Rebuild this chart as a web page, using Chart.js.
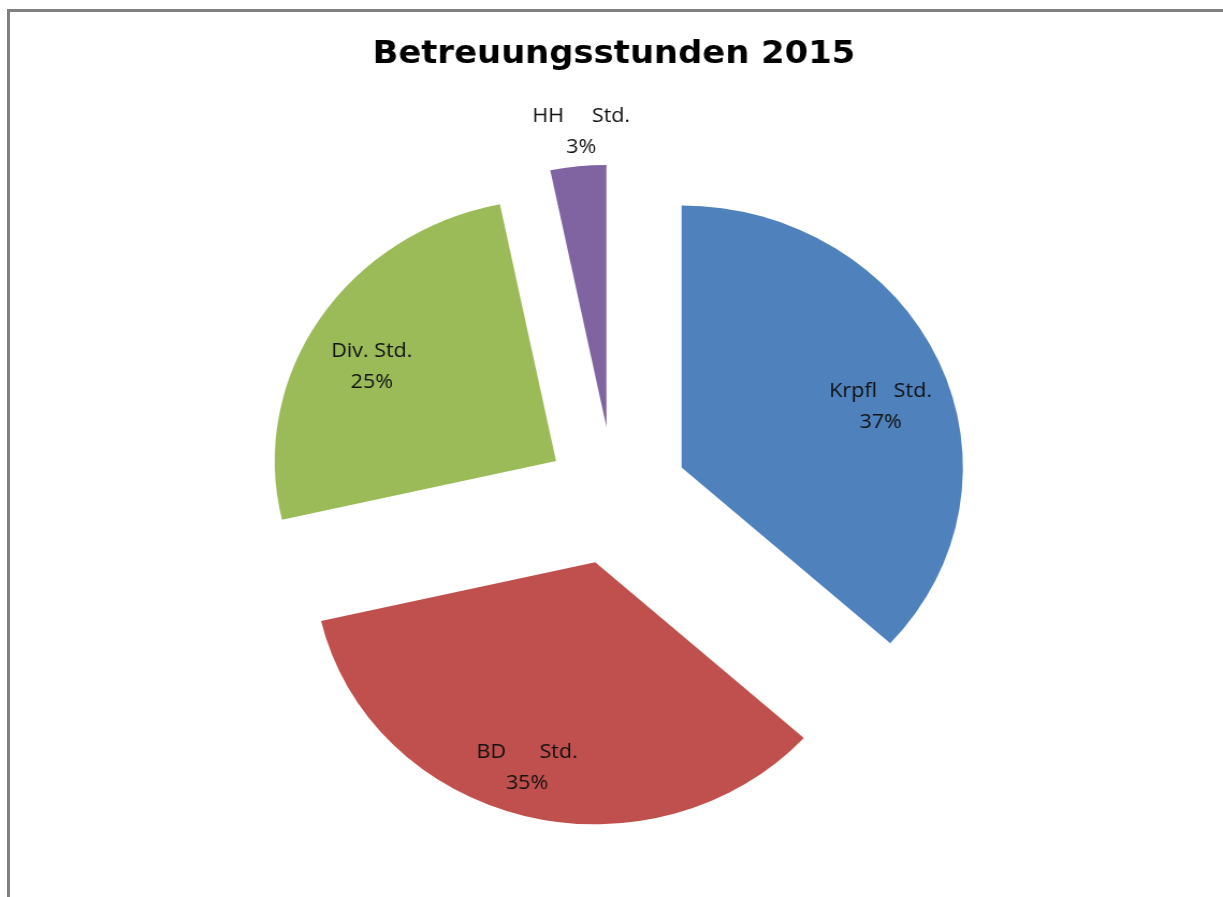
<!DOCTYPE html>
<html><head><meta charset="utf-8">
<script src="https://cdn.jsdelivr.net/npm/chart.js@4"></script>
<style>
html,body{margin:0;padding:0;background:#fff;overflow:hidden}
#wrap{position:relative;width:1223px;height:897px;overflow:hidden}
.line{position:absolute;background:#808080;pointer-events:none}
#topline{left:7px;top:9px;width:1216px;height:3px}
#leftline{left:7px;top:9px;width:3px;height:888px}
canvas{position:absolute;left:0;top:0}
</style></head><body>
<div id="wrap"><canvas id="c" width="1139" height="897" style="width:1223px;height:897px"></canvas><div class="line" id="topline"></div><div class="line" id="leftline"></div></div>
<script>
const titleText = 'Betreuungsstunden 2015';
const categories = ['Krpfl   Std.', 'BD      Std.', 'Div. Std.', 'HH     Std.'];
const shares = [36.7, 34.7, 25.4, 3.2];
const sliceColors = ['#4F81BD', '#C0504D', '#9BBB59', '#8064A2'];

const explodePlugin = {
  id: 'explode',
  beforeDatasetDraw(chart, args, opts) {
    const ctx = chart.ctx;
    args.meta.data.forEach((arc, i) => {
      const d = opts.distance[i];
      const half = (arc.startAngle + arc.endAngle) / 2;
      ctx.save();
      ctx.translate(Math.cos(half) * d, Math.sin(half) * d);
      arc.draw(ctx, chart.chartArea);
      ctx.restore();
    });
    return false;
  }
};

const labelPlugin = {
  id: 'sliceLabels',
  afterDatasetsDraw(chart, args, opts) {
    const ctx = chart.ctx;
    const meta = chart.getDatasetMeta(0);
    const values = chart.data.datasets[0].data;
    const total = values.reduce((a, b) => a + b, 0);
    const dists = chart.options.plugins.explode.distance;
    ctx.save();
    ctx.font = opts.font;
    ctx.fillStyle = opts.color;
    ctx.textAlign = 'center';
    ctx.textBaseline = 'middle';
    meta.data.forEach((arc, i) => {
      const mid = (arc.startAngle + arc.endAngle) / 2;
      const half = mid + (opts.turnDeg[i] || 0) * Math.PI / 180;
      const d = dists[i];
      const frac = values[i] / total;
      const r = arc.outerRadius * opts.radiusRatio[i];
      const x = arc.x + Math.cos(mid) * d + Math.cos(half) * r;
      const y = arc.y + Math.sin(mid) * d + Math.sin(half) * r;
      ctx.fillText(chart.data.labels[i], x, y - opts.lineHeight / 2);
      ctx.fillText(Math.round(frac * 100) + '%', x, y + opts.lineHeight / 2);
    });
    ctx.restore();
  }
};

new Chart(document.getElementById('c'), {
  type: 'pie',
  data: {
    labels: categories,
    datasets: [{ data: shares, backgroundColor: sliceColors, borderWidth: 0, radius: 262 }]
  },
  options: {
    responsive: false,
    animation: false,
    events: [],
    layout: { padding: { left: 4.4, right: 0, top: 0, bottom: 0 } },
    plugins: {
      legend: { display: false },
      tooltip: { enabled: false },
      title: {
        display: true, text: titleText, color: '#000',
        font: { family: 'DejaVu Sans', size: 31.5, weight: 'bold', lineHeight: 1.2 },
        padding: { top: 35.7, bottom: 20.6 }
      },
      explode: { distance: [69, 69, 64, 69] },
      sliceLabels: {
        font: '20px "Open Sans"', color: '#111', lineHeight: 31,
        radiusRatio: [0.745, 0.82, 0.747, 1.129],
        turnDeg: [5.7, 2.6, -4.0, 1.2]
      }
    }
  },
  plugins: [explodePlugin, labelPlugin]
});
</script>
</body></html>
